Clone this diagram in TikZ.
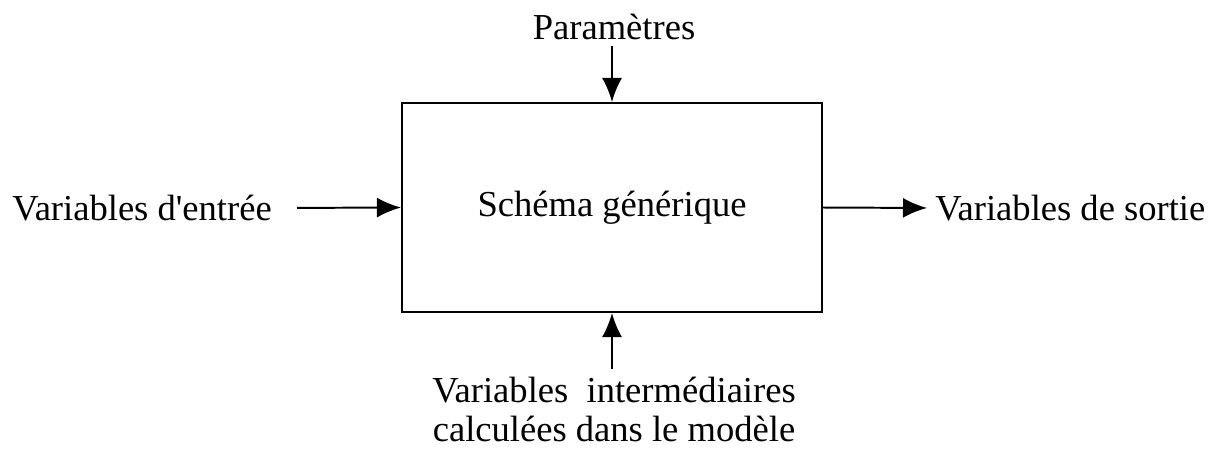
\documentclass[tikz,border=0pt]{standalone}
\usepackage{fontspec}
\setmainfont{Liberation Serif}
\usetikzlibrary{arrows.meta,positioning}

\begin{document}
\begin{tikzpicture}[x=0.025cm, y=-0.025cm, every node/.style={font=\fontsize{26}{27.5}\selectfont},
	lbl/.style={inner sep=0pt},
	arr/.style={line width=1.4pt, -{Latex[length=0.6cm, width=0.5cm]}}]
	\useasboundingbox (0,0) rectangle (1215,450);
	\node[draw, line width=1.4pt, minimum width=10.5cm, minimum height=5.225cm] (box) at (612,207.5) {Schéma générique};
	\node[lbl] (param) at (614,27) {Paramètres};
	\node[lbl, anchor=east] (entree) at (272,208) {Variables d\textquotesingle entrée};
	\node[lbl, anchor=west] (sortie) at (935,208) {Variables de sortie};
	\node[lbl, anchor=north, align=center] (inter) at (614,377) {Variables~ intermédiaires\\calculées dans le modèle};
	\draw[arr, shorten <=0.15cm] (box.north |- param.south) -- (box.north);
	\draw[arr, shorten <=0.625cm] (entree.east) -- (box.west);
	\draw[arr, shorten >=0.2cm] (box.east) -- (sortie.west);
	\draw[arr, shorten <=0.2cm] (box.south |- inter.north) -- (box.south);
\end{tikzpicture}
\end{document}
